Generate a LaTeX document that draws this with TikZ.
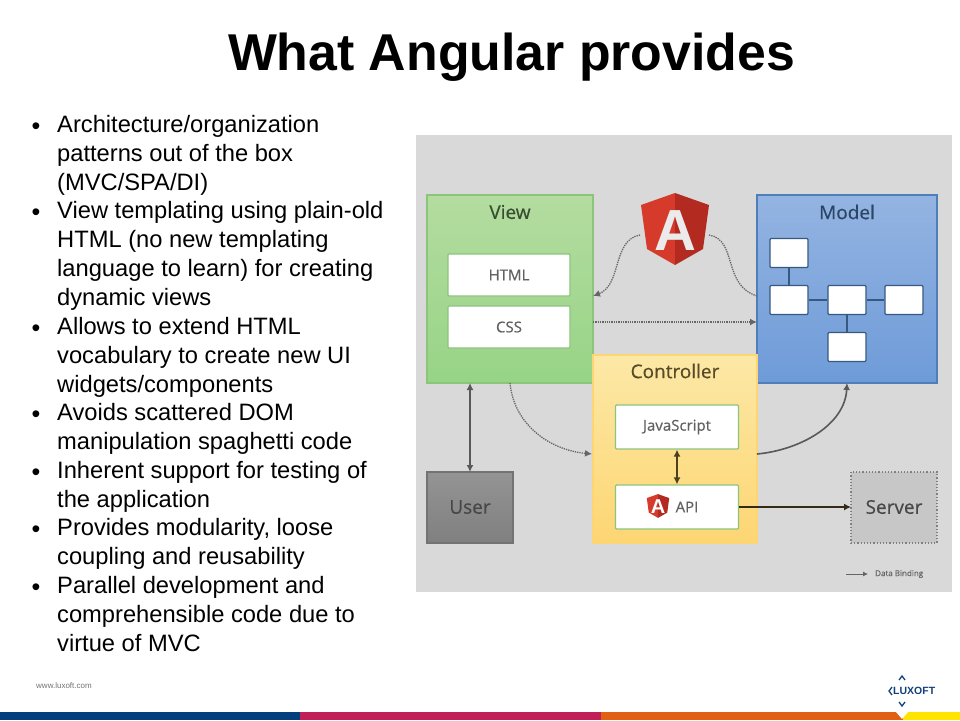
\documentclass[tikz,border=0pt]{standalone}
\usepackage{fontspec}
\setmainfont{Liberation Sans}
\newfontfamily\panelfont[FakeBold=0.5]{Open Sans}
\usetikzlibrary{arrows.meta}

\definecolor{panelgrey}{HTML}{D9D9D9}
\definecolor{viewtop}{HTML}{B4DCA0}
\definecolor{viewbot}{HTML}{97D486}
\definecolor{viewedge}{HTML}{8CC47C}
\definecolor{modeltop}{HTML}{94B4E2}
\definecolor{modelbot}{HTML}{6E9BD8}
\definecolor{modeledge}{HTML}{4F7FB8}
\definecolor{ctrltop}{HTML}{FCE8A6}
\definecolor{ctrlbot}{HTML}{FDD673}
\definecolor{ngleft}{HTML}{D63A2A}
\definecolor{ngright}{HTML}{B22A20}
\definecolor{barblue}{HTML}{033F7C}
\definecolor{barred}{HTML}{C11F58}
\definecolor{barorange}{HTML}{E06014}
\definecolor{baryellow}{HTML}{FFE400}
\definecolor{luxblue}{HTML}{12407A}

\tikzset{
  itemmark/.style={inner sep=0pt,font=\fontsize{25}{29}\selectfont},
  itemtext/.style={anchor=north west,inner sep=0pt,align=left,font=\fontsize{23.7}{28.9}\selectfont},
  areabox/.style={inner sep=0pt,draw,line width=1.2pt},
  whitebox/.style={inner sep=0pt,fill=white,draw=#1,line width=1.2pt,rounded corners=1pt,text=black!62,font=\panelfont\fontsize{15}{17}\selectfont},
  modelbox/.style={inner sep=0pt,fill=white,draw=modeledge!70!black,line width=1.2pt,rounded corners=1pt,minimum width=38,minimum height=29},
  arealabel/.style={inner sep=0pt,font=\panelfont\fontsize{19}{21}\selectfont},
  linkdot/.style={densely dotted,line width=1.3pt,black!60,-{Latex[length=7pt,width=7pt]}},
  linksolid/.style={line width=1.6pt,black!65,{Latex[length=7pt,width=7pt]}-{Latex[length=7pt,width=7pt]}},
  linkone/.style={line width=1.6pt,black!65,-{Latex[length=7pt,width=7pt]}},
  ngshield/.pic={
    \fill[ngleft] (0,-36) -- (-34,-24) -- (-28,20) -- (0,36) -- cycle;
    \fill[ngright] (0,-36) -- (34,-24) -- (28,20) -- (0,36) -- cycle;
  }
}

\begin{document}
\begin{tikzpicture}[x=1pt,y=-1pt]
\useasboundingbox (0,0) rectangle (960,720);

\node[inner sep=0pt,font=\bfseries\fontsize{51.8}{56}\selectfont] (title) at (511.5,57) {What Angular provides};

\node[itemmark] (mark1) at (36,128.5) {•};
\node[itemtext] (item1) at (57,115) {Architecture/organization\\patterns out of the box\\(MVC/SPA/DI)};
\node[itemmark] (mark2) at (36,214.5) {•};
\node[itemtext] (item2) at (57,201) {View templating using plain-old\\HTML (no new templating\\language to learn) for creating\\dynamic views};
\node[itemmark] (mark3) at (36,330.5) {•};
\node[itemtext] (item3) at (57,317) {Allows to extend HTML\\vocabulary to create new UI\\widgets/components};
\node[itemmark] (mark4) at (36,416.5) {•};
\node[itemtext] (item4) at (57,403) {Avoids scattered DOM\\manipulation spaghetti code};
\node[itemmark] (mark5) at (36,474.5) {•};
\node[itemtext] (item5) at (57,461) {Inherent support for testing of\\the application};
\node[itemmark] (mark6) at (36,531.5) {•};
\node[itemtext] (item6) at (57,518) {Provides modularity, loose\\coupling and reusability};
\node[itemmark] (mark7) at (36,589.5) {•};
\node[itemtext] (item7) at (57,576) {Parallel development and\\comprehensible code due to\\virtue of MVC};

\fill[panelgrey] (416,135) rectangle (952,592);

\node[areabox,minimum width=166,minimum height=188,top color=viewtop,bottom color=viewbot,draw=viewedge] (view) at (510,289) {};
\node[areabox,minimum width=180,minimum height=188,top color=modeltop,bottom color=modelbot,draw=modeledge] (model) at (847,289) {};
\node[areabox,minimum width=164,minimum height=188,top color=ctrltop,bottom color=ctrlbot,draw=ctrlbot] (controller) at (675,449) {};
\node[areabox,minimum width=86,minimum height=71,top color=black!42,bottom color=black!50,draw=black!55] (user) at (470,507.5) {};
\node[areabox,dotted,line width=1.8pt,minimum width=86,minimum height=71,fill=black!22,draw=black!50] (server) at (894,507.5) {};

\node[arealabel,text=viewedge!40!black] at (510,212) (viewlabel) {View};
\node[arealabel,text=modeledge!55!black] at (847,212) (modellabel) {Model};
\node[arealabel,text=ctrlbot!35!black] at (675,371) (controllerlabel) {Controller};
\node[arealabel,text=black!72] at (470,507) (userlabel) {User};
\node[arealabel,text=black!72] at (894,507) (serverlabel) {Server};

\node[whitebox=viewedge,minimum width=122,minimum height=42] (html) at (509,275) {HTML};
\node[whitebox=viewedge,minimum width=122,minimum height=42] (css) at (509,327) {CSS};
\node[whitebox=viewedge,minimum width=123,minimum height=44] (js) at (677,427) {JavaScript};
\node[whitebox=viewedge,minimum width=123,minimum height=44] (api) at (677,507) {};

\node[modelbox] (box1) at (789,253) {};
\node[modelbox] (box2) at (789,300) {};
\node[modelbox] (box3) at (847,300) {};
\node[modelbox] (box4) at (904,300) {};
\node[modelbox] (box5) at (847,347) {};
\draw[modeledge!70!black,line width=1.2pt] (box1) -- (box2);
\draw[modeledge!70!black,line width=1.2pt] (box2) -- (box3);
\draw[modeledge!70!black,line width=1.2pt] (box3) -- (box4);
\draw[modeledge!70!black,line width=1.2pt] (box3) -- (box5);

\node[inner sep=0pt,minimum width=68,minimum height=72] (logo) at (675,229) {};
\pic at (logo.center) {ngshield};
\node[inner sep=0pt,text=white!92!black,font=\bfseries\fontsize{58}{58}\selectfont] (logoA) at (675,231) {A};
\pic[scale=0.33] at (658,506) {ngshield};
\node[inner sep=0pt,text=white,font=\bfseries\fontsize{20}{20}\selectfont] (apiA) at (658,507) {A};
\node[inner sep=0pt,text=black!62,font=\panelfont\fontsize{15}{17}\selectfont] (apilabel) at (687,507) {API};

\coordinate (viewin) at (593,296);
\coordinate (modelin) at (757,296);
\coordinate (viewmid) at (593,322);
\coordinate (modelmid) at (757,322);
\coordinate (logoleft) at (640,235);
\coordinate (logoright) at (709,235);
\coordinate (viewout) at (510,383);
\coordinate (ctrlin) at (592,454);
\coordinate (ctrlout) at (757,454);
\coordinate (modelout) at (847,383);
\coordinate (userup) at (470,383);
\coordinate (usertop) at (470,472);
\coordinate (serverin) at (851,507);
\coordinate (legendfrom) at (846,574);
\coordinate (legendto) at (868,574);

\draw[linkdot] (logoleft) .. controls (612,240) and (622,285) .. (viewin);
\draw[densely dotted,line width=1.3pt,black!60] (logoright) .. controls (738,240) and (722,285) .. (modelin);
\draw[linkdot] (viewmid) -- (modelmid);
\draw[linkdot] (viewout) .. controls (514,425) and (550,450) .. (ctrlin);
\draw[linkone] (ctrlout) .. controls (800,450) and (845,425) .. (modelout);
\draw[linksolid] (userup) -- (usertop);
\draw[linksolid,ctrlbot!30!black] (js) -- (api);
\draw[linkone,ctrlbot!20!black] (api) -- (serverin);
\draw[line width=0.8pt,black!60,-{Latex[length=5pt,width=5pt]}] (legendfrom) -- (legendto);
\node[anchor=west,inner sep=0pt,text=black!60,font=\panelfont\fontsize{8}{9}\selectfont] (legendtext) at (875,574) {Data Binding};

\node[inner sep=0pt,text=black!55,font=\fontsize{8}{10}\selectfont] (url) at (64,686) {www.luxoft.com};

\fill[barblue] (0,712) rectangle (300,720);
\fill[barred] (300,712) rectangle (601,720);
\fill[barorange] (601,712) rectangle (903,720);
\fill[baryellow] (903,712) rectangle (960,720);
\fill[white] (896,712) -- (908,712) -- (902,719) -- cycle;

\node[anchor=west,inner sep=0pt,text=luxblue,font=\bfseries\fontsize{10.5}{12}\selectfont] (luxoft) at (893,691) {LUXOFT};
\draw[luxblue,line width=1.3pt] (899,680) -- (902,676) -- (905,680);
\draw[luxblue,line width=1.3pt] (892,687) -- (889,691) -- (892,695);
\draw[luxblue,line width=1.3pt] (899,702) -- (902,706) -- (905,702);
\end{tikzpicture}
\end{document}
